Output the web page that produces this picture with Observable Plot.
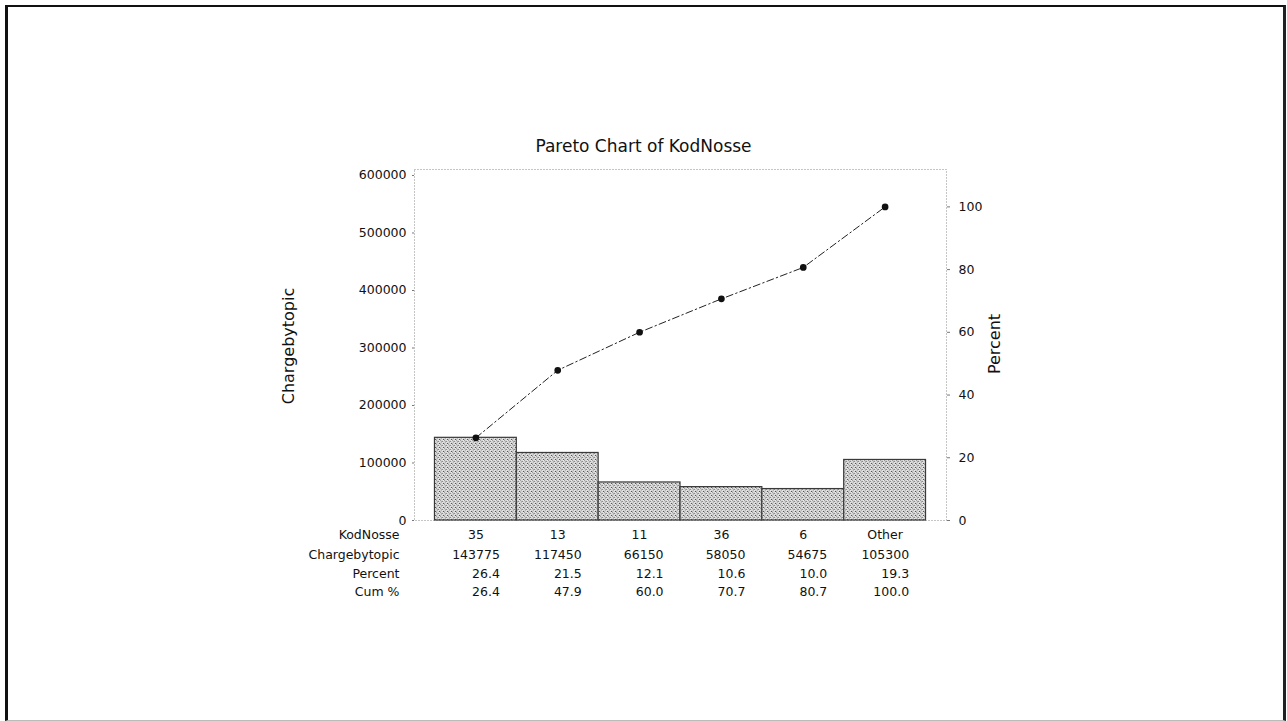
<!DOCTYPE html>
<html><head><meta charset="utf-8">
<script src="https://cdn.jsdelivr.net/npm/d3@7"></script>
<script src="https://cdn.jsdelivr.net/npm/@observablehq/plot@0.6"></script>
<style>
html,body{margin:0;padding:0;background:#fff;}
#wrap{position:relative;width:1287px;height:721px;overflow:hidden;font-family:"DejaVu Sans",sans-serif;color:#111;}
#border{position:absolute;left:5px;top:5px;width:1275px;height:713px;border-left:3px solid #111;border-top:2px solid #111;border-right:3px solid #222;border-bottom:1px solid #bbb;}
#title{position:absolute;left:0;width:1287px;top:134px;text-align:center;font-size:17px;line-height:24px;}
.ylab{position:absolute;width:200px;height:24px;line-height:24px;text-align:center;font-size:16px;transform:rotate(-90deg);}
#chart{position:absolute;left:0;top:0;}
</style></head><body>
<div id="wrap">
  <div id="border"></div>
  <div id="chart"></div>
  <div id="title">Pareto Chart of KodNosse</div>
  <div class="ylab" id="ylabL" style="left:189px;top:334px;">Chargebytopic</div>
  <div class="ylab" id="ylabR" style="left:895px;top:332px;">Percent</div>
</div>
<script>
const categories = ["35", "13", "11", "36", "6", "Other"];
const charge = [143775, 117450, 66150, 58050, 54675, 105300];
const percent = [26.4, 21.5, 12.1, 10.6, 10.0, 19.3];
const cumPercent = [26.4, 47.9, 60.0, 70.7, 80.7, 100.0];
const leftTicks = [0, 100000, 200000, 300000, 400000, 500000, 600000];
const rightTicks = [0, 20, 40, 60, 80, 100];
const rowLabels = ["KodNosse", "Chargebytopic", "Percent", "Cum %"];

const total = d3.sum(charge);
const cumValues = Array.from(d3.cumsum(charge));
const rows = categories.map((c, i) => ({
  cat: c, charge: charge[i], pct: percent[i], cum: cumPercent[i], cumValue: cumValues[i]
}));

const rowDy = [14, 34, 53, 71];
const fontStyle = {fill: "#111"};
const tStyle = {frameAnchor: "bottom", lineAnchor: "middle", ...fontStyle};

const tableMarks = [
  Plot.text(rows, {x: "cat", text: "cat", dy: rowDy[0], ...tStyle}),
  Plot.text(rows, {x: "cat", text: d => String(d.charge), dy: rowDy[1], dx: 24, textAnchor: "end", ...tStyle}),
  Plot.text(rows, {x: "cat", text: d => d.pct.toFixed(1), dy: rowDy[2], dx: 24, textAnchor: "end", ...tStyle}),
  Plot.text(rows, {x: "cat", text: d => d.cum.toFixed(1), dy: rowDy[3], dx: 24, textAnchor: "end", ...tStyle}),
  ...rowLabels.map((lab, i) => Plot.text([lab], {text: d => d, frameAnchor: "bottom-left", lineAnchor: "middle", dx: -15, dy: rowDy[i], textAnchor: "end", ...fontStyle}))
];

const chart = Plot.plot({
  width: 1287, height: 721,
  marginLeft: 414, marginRight: 341, marginTop: 169, marginBottom: 201,
  style: {fontFamily: "'DejaVu Sans', sans-serif", fontSize: "12.5px", color: "#111", background: "transparent", overflow: "visible"},
  x: {type: "band", domain: categories, paddingInner: 0, paddingOuter: 0.25, round: false, axis: null},
  y: {domain: [0, 610400], axis: null},
  marks: [
    Plot.frame({stroke: "#8a8a8a", strokeDasharray: "1,2"}),
    Plot.barY(rows, {x: "cat", y: "charge", fill: "url(#stipple)", stroke: "#3a3a3a", strokeWidth: 1.2}),
    Plot.axisY(leftTicks, {anchor: "left", tickSize: 2, tickPadding: 6, tickFormat: d => String(d), label: null, stroke: "#777", ...fontStyle}),
    Plot.axisY(rightTicks.map(p => p / 100 * total), {anchor: "right", tickSize: 3, tickPadding: 9, tickFormat: d => String(Math.round(d / total * 100)), label: null, stroke: "#777", ...fontStyle}),
    Plot.line(rows, {x: "cat", y: "cumValue", stroke: "#222", strokeWidth: 1, strokeDasharray: "7,3,1.5,3"}),
    Plot.dot(rows, {x: "cat", y: "cumValue", r: 2.6, fill: "#111", stroke: "#111"}),
    ...tableMarks
  ]
});

// stipple texture for the bars
const svg = d3.select(chart.tagName.toLowerCase() === "svg" ? chart : chart.querySelector("svg"));
const pat = svg.insert("defs", ":first-child").append("pattern")
  .attr("id", "stipple").attr("patternUnits", "userSpaceOnUse")
  .attr("width", 4).attr("height", 4);
pat.append("rect").attr("width", 4).attr("height", 4).attr("fill", "#d6d6d6");
const texels = [[0,0,"#a0a0a0"],[2,1,"#8a8a8a"],[1,2,"#b4b4b4"],[3,3,"#555555"],[3,0,"#ececec"],[0,3,"#bcbcbc"],[2,2,"#e8e8e8"],[1,1,"#ababab"]];
texels.forEach(([x, y, c]) => pat.append("rect").attr("x", x).attr("y", y).attr("width", 1).attr("height", 1).attr("fill", c));

document.getElementById("chart").appendChild(chart);
</script>
</body></html>
